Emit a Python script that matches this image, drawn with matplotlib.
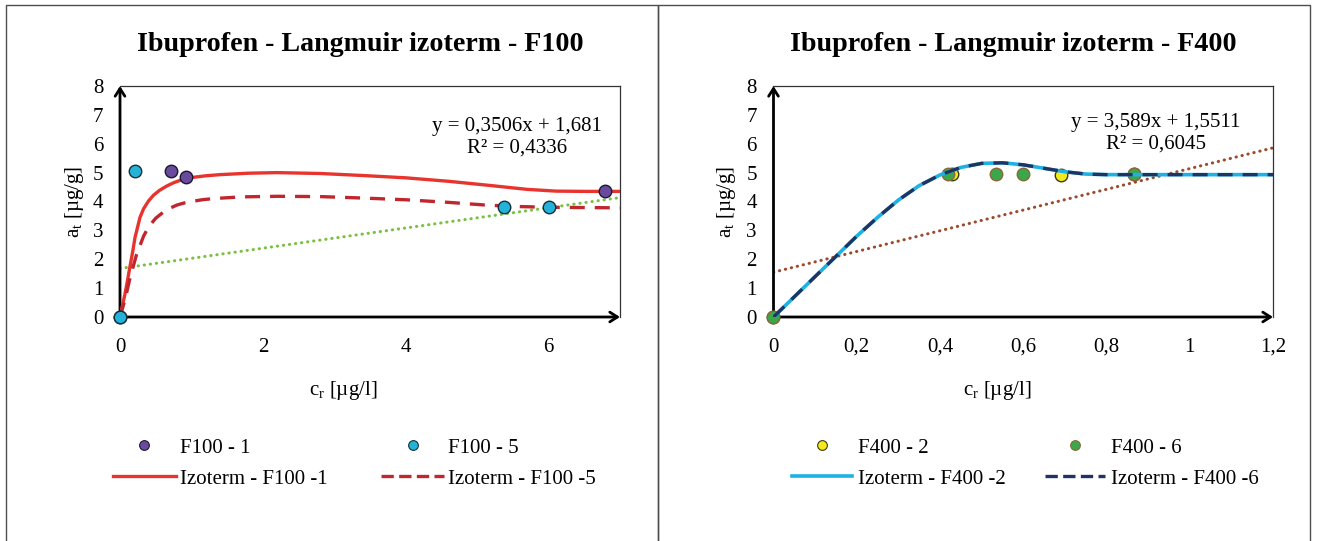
import matplotlib
matplotlib.use("Agg")
import matplotlib.pyplot as plt
from matplotlib.patches import Rectangle
from matplotlib.lines import Line2D

plt.rcParams['font.family'] = ['Liberation Serif', 'DejaVu Serif']
plt.rcParams['mathtext.fontset'] = 'custom'
plt.rcParams['mathtext.rm'] = 'Liberation Serif'
plt.rcParams['mathtext.it'] = 'Liberation Serif:italic'

# ---------------- data: left panel (F100) ----------------
f100_1_x = [0, 0.71, 0.92, 6.79]
f100_1_y = [0, 5.05, 4.85, 4.35]
f100_5_x = [0, 0.21, 5.38, 6.0]
f100_5_y = [0, 5.05, 3.82, 3.82]

izo_f100_1_x = [0, 0.03, 0.07, 0.1, 0.14, 0.18, 0.21, 0.25, 0.28, 0.33, 0.4, 0.47, 0.55,
                0.65, 0.75, 0.85, 1.0, 1.2, 1.4, 1.8, 2.2, 2.8, 3.4, 4.0, 4.6, 5.2,
                5.7, 6.1, 6.5, 7.0]
izo_f100_1_y = [0, 0.35, 0.8, 1.2, 1.75, 2.3, 2.75, 3.15, 3.45, 3.75, 4.02, 4.22, 4.38,
                4.53, 4.65, 4.74, 4.83, 4.89, 4.93, 4.98, 5.0, 4.97, 4.9, 4.82, 4.7,
                4.55, 4.42, 4.36, 4.35, 4.35]
izo_f100_5_x = [0, 0.07, 0.14, 0.23, 0.33, 0.4, 0.5, 0.6, 0.7, 0.8, 0.9, 1.0, 1.15,
                1.3, 1.7, 2.2, 2.8, 3.4, 4.0, 4.6, 5.1, 5.5, 6.0, 6.5, 7.0]
izo_f100_5_y = [0, 0.6, 1.35, 2.15, 2.8, 3.12, 3.42, 3.62, 3.77, 3.88, 3.95, 4.0, 4.06,
                4.1, 4.16, 4.18, 4.17, 4.12, 4.06, 3.97, 3.88, 3.83, 3.8, 3.79, 3.78]
trend_f100 = (0.3506, 1.681)      # slope, intercept
trend_f100_range = (0, 7)

# ---------------- data: right panel (F400) ----------------
f400_2_x = [0, 0.43, 0.69, 0.865]
f400_2_y = [0, 4.95, 4.93, 4.95]
f400_6_x = [0, 0.42, 0.535, 0.60, 0.865]
f400_6_y = [0, 4.95, 4.95, 4.95, 4.95]

izo_f400_2_x = [0, 0.05, 0.1, 0.15, 0.2, 0.25, 0.3, 0.35, 0.4, 0.45, 0.5, 0.55, 0.6,
                0.65, 0.7, 0.75, 0.8, 0.9, 1.0, 1.1, 1.2]
izo_f400_2_y = [0, 0.7, 1.4, 2.1, 2.8, 3.45, 4.05, 4.55, 4.92, 5.18, 5.32, 5.34, 5.27,
                5.15, 5.03, 4.95, 4.93, 4.93, 4.93, 4.93, 4.93]
izo_f400_6_x = [0, 0.05, 0.1, 0.15, 0.2, 0.25, 0.3, 0.35, 0.4, 0.45, 0.5, 0.55, 0.6,
                0.65, 0.7, 0.75, 0.8, 0.9, 1.0, 1.1, 1.2]
izo_f400_6_y = [0, 0.7, 1.4, 2.1, 2.8, 3.45, 4.05, 4.55, 4.92, 5.18, 5.32, 5.34, 5.27,
                5.15, 5.03, 4.95, 4.93, 4.93, 4.93, 4.93, 4.93]
trend_f400 = (3.589, 1.5511)
trend_f400_range = (0, 1.2)

y_ticks = [0, 1, 2, 3, 4, 5, 6, 7, 8]
y_ticklabels = ['0', '1', '2', '3', '4', '5', '6', '7', '8']
x_ticks_f100 = [0, 2, 4, 6]
x_ticklabels_f100 = ['0', '2', '4', '6']
x_ticks_f400 = [0, 0.2, 0.4, 0.6, 0.8, 1.0, 1.2]
x_ticklabels_f400 = ['0', '0,2', '0,4', '0,6', '0,8', '1', '1,2']

titles = ['Ibuprofen - Langmuir izoterm - F100', 'Ibuprofen - Langmuir izoterm - F400']
eq_f100 = 'y = 0,3506x + 1,681\nR² = 0,4336'
eq_f400 = 'y = 3,589x + 1,5511\nR² = 0,6045'

# ---------------- figure ----------------
W, H = 1317, 541
fig = plt.figure(figsize=(W / 100, H / 100), dpi=100)

def fx(px):
    return px / W

def fy(py):
    return 1 - py / H

# panel frames
for x0, x1 in [(6, 658), (658, 1310)]:
    fig.add_artist(Rectangle((fx(x0), fy(560)), fx(x1 - x0), fy(5) - fy(560),
                             transform=fig.transFigure, fill=False,
                             edgecolor='#4d4d4d', lw=1.0))

FS = 15

def make_axes(left_px, right_px):
    ax = fig.add_axes([fx(left_px), fy(317), fx(right_px - left_px), fy(86) - fy(317)])
    for s in ax.spines.values():
        s.set_color('#333333')
        s.set_linewidth(0.9)
    ax.spines['left'].set_visible(False)
    ax.spines['bottom'].set_visible(False)
    ax.set_ylim(0, 8)
    ax.set_yticks(y_ticks)
    ax.set_yticklabels(y_ticklabels)
    ax.tick_params(length=0, labelsize=FS, pad=12)
    ax.tick_params(axis='x', pad=15)
    # thick axes with open arrow heads
    ax.annotate('', xy=(0, 1.0), xytext=(0, 0), xycoords='axes fraction',
                arrowprops=dict(arrowstyle='->,head_length=0.55,head_width=0.35',
                                lw=2.0, color='black', shrinkA=0, shrinkB=0),
                annotation_clip=False)
    ax.annotate('', xy=(1.0, 0), xytext=(0, 0), xycoords='axes fraction',
                arrowprops=dict(arrowstyle='->,head_length=0.55,head_width=0.35',
                                lw=2.0, color='black', shrinkA=0, shrinkB=0),
                annotation_clip=False)
    return ax

MS = 9

# ---- left panel ----
ax1 = make_axes(120, 620)
ax1.set_xlim(0, 7)
ax1.set_xticks(x_ticks_f100)
ax1.set_xticklabels(x_ticklabels_f100)
tx = list(trend_f100_range)
ax1.plot(tx, [trend_f100[0] * v + trend_f100[1] for v in tx], color='#7ac143',
         lw=2.2, linestyle=(0, (0.1, 1.9)), dash_capstyle='round', zorder=2)
l1, = ax1.plot(izo_f100_1_x, izo_f100_1_y, color='#e8342e', lw=2.4, zorder=3,
               solid_joinstyle='round')
l5, = ax1.plot(izo_f100_5_x, izo_f100_5_y, color='#c0262d', lw=2.4,
               linestyle=(0, (4.5, 3.0)), zorder=3)
p1, = ax1.plot(f100_1_x, f100_1_y, 'o', color='#6a4a9e', mec='#1a1a2e', mew=1.0,
               ms=MS, zorder=4, clip_on=False)
p5, = ax1.plot(f100_5_x, f100_5_y, 'o', color='#25b2d8', mec='#12303a', mew=1.0,
               ms=MS, zorder=4, clip_on=False)
ax1.text(fx(517), fy(137), eq_f100, transform=fig.transFigure, ha='center',
         va='center', fontsize=FS, linespacing=1.15)

# ---- right panel ----
ax2 = make_axes(773.5, 1273)
ax2.set_xlim(0, 1.2)
ax2.set_xticks(x_ticks_f400)
ax2.set_xticklabels(x_ticklabels_f400)
tx = list(trend_f400_range)
ax2.plot(tx, [trend_f400[0] * v + trend_f400[1] for v in tx], color='#9c4a2c',
         lw=2.2, linestyle=(0, (0.1, 1.9)), dash_capstyle='round', zorder=2)
q2, = ax2.plot(f400_2_x, f400_2_y, 'o', color='#f2ea1e', mec='#3a3a10', mew=1.0,
               ms=MS, zorder=3, clip_on=False)
q6, = ax2.plot(f400_6_x, f400_6_y, 'o', color='#3aa84a', mec='#8a6a3a', mew=1.0,
               ms=MS, zorder=3, clip_on=False)
m2, = ax2.plot(izo_f400_2_x, izo_f400_2_y, color='#1eb2e4', lw=2.6, zorder=4)
m6, = ax2.plot(izo_f400_6_x, izo_f400_6_y, color='#1f3462', lw=2.4,
               linestyle=(0, (4.5, 3.0)), zorder=5)
ax2.text(fx(1156), fy(133), eq_f400, transform=fig.transFigure, ha='center',
         va='center', fontsize=FS, linespacing=1.15)

# titles and axis labels
for cx, t in [(360, titles[0]), (1013, titles[1])]:
    fig.text(fx(cx), fy(45), t, ha='center', va='center', fontsize=20.2,
             fontweight='bold')
for cx in [74, 727]:
    fig.text(fx(cx), fy(202), r'a$_\mathrm{t}$ [µg/g]', rotation=90, ha='center',
             va='center', fontsize=FS)
for cx in [343, 997]:
    fig.text(fx(cx), fy(390), r'c$_\mathrm{r}$ [µg/l]', ha='center', va='center',
             fontsize=FS)

# legends
def leg_handle(line, marker_only=False):
    if marker_only:
        return Line2D([], [], linestyle='none', marker='o', ms=7,
                      mfc=line.get_markerfacecolor(), mec=line.get_markeredgecolor(),
                      mew=0.8)
    return Line2D([], [], color=line.get_color(), lw=line.get_linewidth(),
                  linestyle=line.get_linestyle())

lg1 = fig.legend([leg_handle(p1, True), leg_handle(l1), leg_handle(p5, True), leg_handle(l5)],
                 ['F100 - 1', 'Izoterm - F100 -1', 'F100 - 5', 'Izoterm - F100 -5'],
                 ncol=2, loc='upper left', bbox_to_anchor=(fx(113), fy(438)),
                 frameon=False, fontsize=FS, borderpad=0, borderaxespad=0,
                 handlelength=3.0, handletextpad=0.2, columnspacing=2.6,
                 labelspacing=0.55)
lg2 = fig.legend([leg_handle(q2, True), leg_handle(m2), leg_handle(q6, True), leg_handle(m6)],
                 ['F400 - 2', 'Izoterm - F400 -2', 'F400 - 6', 'Izoterm - F400 -6'],
                 ncol=2, loc='upper left', bbox_to_anchor=(fx(792), fy(438)),
                 frameon=False, fontsize=FS, borderpad=0, borderaxespad=0,
                 handlelength=2.9, handletextpad=0.25, columnspacing=1.9,
                 labelspacing=0.55)

fig.savefig('out.png', dpi=100)
